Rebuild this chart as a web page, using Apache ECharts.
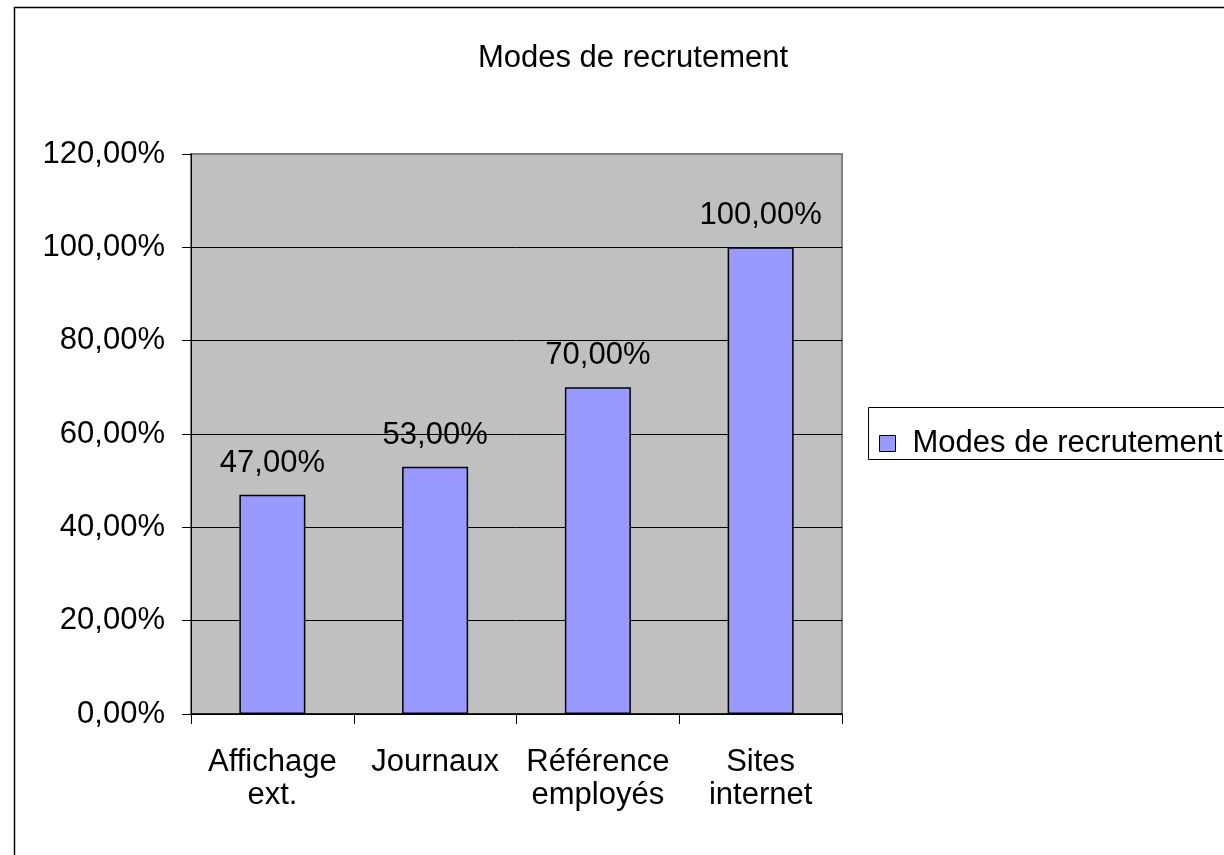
<!DOCTYPE html>
<html>
<head>
<meta charset="utf-8">
<style>
html, body { margin: 0; padding: 0; background: #fff; }
#main { width: 1224px; height: 855px; }
</style>
<script src="https://cdn.jsdelivr.net/npm/echarts@6/dist/echarts.min.js"></script>
</head>
<body>
<div id="main"></div>
<script>
var categories = ['Affichage\next.', 'Journaux', 'Référence\nemployés', 'Sites\ninternet'];
var values = [47, 53, 70, 100];
var seriesName = 'Modes de recrutement';

var font = '"Liberation Sans", Arial, sans-serif';

function pct(v) {
	return Number(v).toFixed(2).replace('.', ',') + '%';
}

var myChart = echarts.init(document.getElementById('main'));

var option = {
	backgroundColor: '#fff',
	animation: false,
	title: {
		text: 'Modes de recrutement',
		left: 628,
		top: 38,
		textAlign: 'center',
		textStyle: { fontFamily: font, fontSize: 31, fontWeight: 'normal', color: '#000' }
	},
	graphic: [
		{
			type: 'rect',
			shape: { x: 14.5, y: 7.5, width: 1400, height: 1000 },
			style: { fill: 'none', stroke: '#000', lineWidth: 1.5 },
			z: 0
		},
		{
			type: 'rect',
			shape: { x: 868.5, y: 407.5, width: 500, height: 52 },
			style: { fill: '#fff', stroke: '#000', lineWidth: 1 },
			z: 1
		}
	],
	legend: {
		data: [seriesName],
		left: 879,
		top: 428,
		padding: 0,
		itemWidth: 16,
		itemHeight: 16,
		icon: 'rect',
		itemStyle: { borderColor: '#000', borderWidth: 1 },
		textStyle: { fontFamily: font, fontSize: 31, color: '#000', padding: [0, 0, 0, 12] },
		z: 5
	},
	grid: {
		left: 191,
		right: 382,
		top: 154,
		bottom: 141,
		show: true,
		backgroundColor: '#C0C0C0',
		borderColor: '#808080',
		borderWidth: 2,
		containLabel: false
	},
	xAxis: {
		type: 'category',
		data: categories,
		axisLine: { lineStyle: { color: '#000', width: 1.5 } },
		axisTick: { show: true, length: 10, lineStyle: { color: '#000' } },
		axisLabel: {
			fontFamily: font, fontSize: 31, color: '#000',
			margin: 32, lineHeight: 33, interval: 0
		}
	},
	yAxis: {
		type: 'value',
		min: 0,
		max: 120,
		interval: 20,
		axisLine: { show: true, lineStyle: { color: '#000', width: 1 } },
		axisTick: { show: true, length: 9, lineStyle: { color: '#000' } },
		splitLine: {
			show: true,
			lineStyle: { color: ['#000', '#000', '#000', '#000', '#000', '#000', '#808080'], width: 1 }
		},
		axisLabel: {
			fontFamily: font, fontSize: 31, color: '#000', margin: 26,
			formatter: pct
		}
	},
	series: [{
		name: seriesName,
		type: 'bar',
		data: values,
		barWidth: 66,
		itemStyle: { color: '#9999FF', borderColor: '#000', borderWidth: 1.5 },
		label: {
			show: true,
			position: 'top',
			distance: 16,
			fontFamily: font,
			fontSize: 31,
			color: '#000',
			formatter: function (p) { return pct(p.value); }
		}
	}]
};

myChart.setOption(option);
</script>
</body>
</html>
